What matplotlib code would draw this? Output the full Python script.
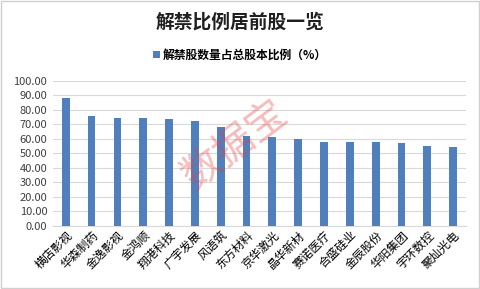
import matplotlib
matplotlib.use('Agg')
import matplotlib.pyplot as plt
from matplotlib.patches import Rectangle

plt.rcParams['font.family'] = ['Noto Sans CJK SC', 'DejaVu Sans']

stocks = ['横店影视', '华森制药', '金逸影视', '金鸿顺', '翔港科技', '广宇发展',
          '风语筑', '东方材料', '京华激光', '晶华新材', '赛诺医疗', '合盛硅业',
          '金辰股份', '华阳集团', '宇环数控', '聚灿光电']
ratio = [88.3, 75.7, 74.4, 74.3, 73.6, 72.2, 68.1, 61.9, 61.2, 59.8,
         57.7, 57.7, 57.7, 57.0, 55.0, 54.3]
yticks = [0, 10, 20, 30, 40, 50, 60, 70, 80, 90, 100]

fig = plt.figure(figsize=(4.8, 2.89), dpi=100)
ax = fig.add_axes([0.110, 0.219, 0.861, 0.502])

x = range(len(stocks))
ax.bar(x, ratio, width=0.3, color='#4f7fbc', zorder=3,
       label='解禁股数量占总股本比例（%）')

ax.set_xlim(-0.5, len(stocks) - 0.5)
ax.set_ylim(0, 100)
ax.set_yticks(yticks)
ax.set_yticklabels([f'{v:.2f}' for v in yticks], fontsize=8, color='#404040')
ax.set_xticks(list(x))
ax.set_xticklabels(stocks, rotation=45, ha='right', va='top',
                   rotation_mode='anchor', fontsize=8.5)
ax.tick_params(axis='y', length=0, pad=4)
ax.tick_params(axis='x', length=0, pad=2)
ax.grid(axis='y', color='#d9d9d9', linewidth=0.8, zorder=0)
for s in ['top', 'right', 'left']:
    ax.spines[s].set_visible(False)
ax.spines['bottom'].set_color('#d9d9d9')

fig.text(0.5, 0.925, '解禁比例居前股一览', ha='center', va='center',
         fontsize=13.5, fontweight='bold', color='#202020')
fig.legend(loc='center', bbox_to_anchor=(0.5, 0.81), frameon=False,
           handlelength=0.6, handleheight=0.6, handletextpad=0.3,
           prop={'weight': 'bold', 'size': 8.5})

# watermark
fig.text(0.49, 0.50, '数据宝', ha='center', va='center', rotation=37,
         fontsize=29, color='#e84040', alpha=0.35, zorder=10)

fig.patches.append(Rectangle((0.002, 0.003), 0.996, 0.994, transform=fig.transFigure,
                             fill=False, edgecolor='#d0d0d0', linewidth=1))

fig.savefig('out.png', dpi=100)
